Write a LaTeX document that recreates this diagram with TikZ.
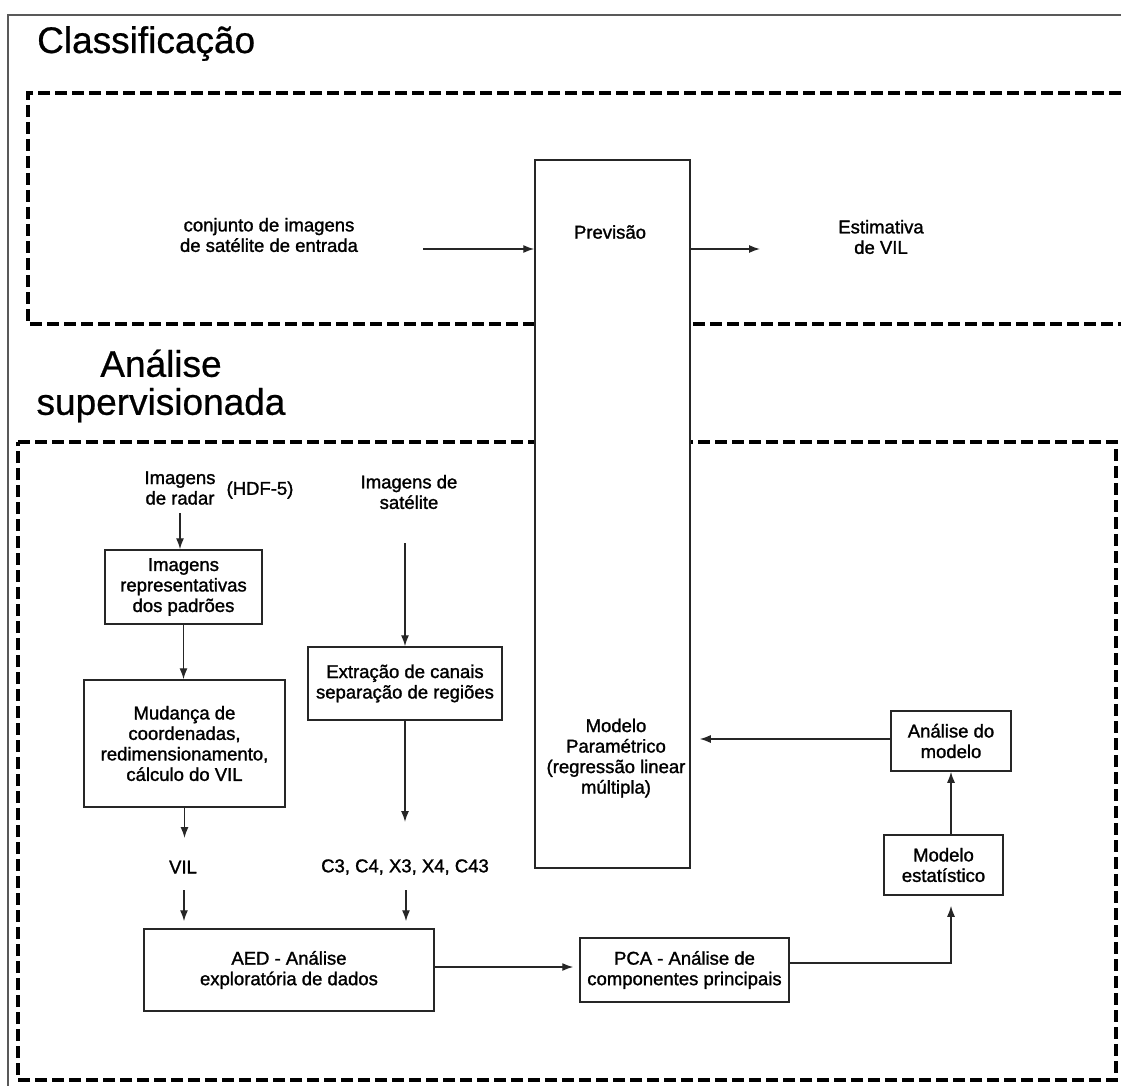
\documentclass[tikz,border=0pt]{standalone}
\usepackage{fontspec}
\setmainfont{Liberation Sans}
\newfontfamily\lblfont[FakeBold=1.4]{Liberation Sans}
\newfontfamily\ttlfont[FakeBold=0.6]{Liberation Sans}
\usetikzlibrary{arrows.meta,calc}
\begin{document}
\begin{tikzpicture}[x=1pt,y=-1pt,
  lbl/.style={align=center,font=\lblfont\fontsize{18.5}{20.5}\selectfont,inner sep=0pt},
  box/.style={draw=black!85,line width=1.5pt,fill=white,align=center,font=\lblfont\fontsize{18.5}{20.5}\selectfont,inner sep=0pt},
  arr/.style={draw=black!85,line width=1.4pt,-{Latex[length=11pt,width=8pt]}},
  region/.style={draw=black,line width=3.2pt,dash pattern=on 12pt off 5pt},
  frame/.style={draw=black!65,line width=1.3pt},
  title/.style={font=\ttlfont\fontsize{37}{38}\selectfont,inner sep=0pt,align=center}]
\useasboundingbox (0,0) rectangle (1121,1086);
\draw[frame] (8,1086) -- (8,15) -- (1121,15);
\draw[region] (1121,93) -- (28,93) -- (28,324) -- (1121,324);
\draw[region] (18,442) -- (1116,442) -- (1116,1080) -- (18,1080) -- cycle;

\node[title,anchor=base west] (cls) at (37,53) {Classificação};
\node[title] (sup) at (161,386) {Análise\\supervisionada};

% big box
\node[box,minimum width=155pt,minimum height=708pt] (big) at (612.5,514) {};
\node[lbl] (prev) at (610,232) {Previsão};
\node[lbl] (param) at (616,758) {Modelo\\Paramétrico\\(regressão linear\\múltipla)};

% classification
\node[lbl] (conj) at (269,235) {conjunto de imagens\\de satélite de entrada};
\coordinate (cin) at (423,249);
\draw[arr] (cin) -- (cin -| big.west);
\coordinate (cout) at (760,249);
\draw[arr] (cout -| big.east) -- (cout);
\node[lbl] (est) at (881,237) {Estimativa\\de VIL};

% radar branch
\node[lbl] (radar) at (180,488) {Imagens\\de radar};
\node[lbl] (hdf) at (260,490) {(HDF-5)};
\node[box,minimum width=157pt,minimum height=74pt] (rep) at (183.5,587) {Imagens\\representativas\\dos padrões};
\coordinate (radarout) at (180,513);
\draw[arr] (radarout) -- (radarout |- rep.north);
\node[box,minimum width=201pt,minimum height=127pt] (mud) at (184.5,743.5) {Mudança de\\coordenadas,\\redimensionamento,\\cálculo do VIL};
\draw[arr] (rep.south) -- (rep.south |- mud.north);
\coordinate (vilin) at (184.5,838);
\draw[arr] (mud.south) -- (vilin);
\node[lbl] (vil) at (183,867) {VIL};

% satellite branch
\node[lbl] (sat) at (409,492) {Imagens de\\satélite};
\node[box,minimum width=194pt,minimum height=73pt] (ext) at (405,683.5) {Extração de canais\\separação de regiões};
\coordinate (satout) at (405,543);
\draw[arr] (satout) -- (ext.north);
\coordinate (chanin) at (405,822);
\draw[arr] (ext.south) -- (chanin);
\node[lbl] (chan) at (405,867) {C3, C4, X3, X4, C43};

% analysis
\node[box,minimum width=290pt,minimum height=82pt] (aed) at (289,970) {AED - Análise\\exploratória de dados};
\coordinate (vilout) at (184,890);
\coordinate (chanout) at (406,890);
\draw[arr] (vilout) -- ([yshift=7pt]vilout |- aed.north);
\draw[arr] (chanout) -- ([yshift=7pt]chanout |- aed.north);
\node[box,minimum width=209pt,minimum height=64pt] (pca) at (684.5,970) {PCA - Análise de\\componentes principais};
\coordinate (ay) at (0,967);
\draw[arr] (aed.east |- ay) -- ([xshift=-6pt]pca.west |- ay);
\node[box,minimum width=119pt,minimum height=60pt] (stat) at (943.5,865) {Modelo\\estatístico};
\node[box,minimum width=120pt,minimum height=60pt] (ana) at (951,741) {Análise do\\modelo};
\coordinate (py) at (0,963);
\draw[arr] (pca.east |- py) -| ([yshift=-10pt]stat.south -| ana.south);
\draw[arr] (stat.north -| ana.south) -- (ana.south);
\coordinate (ay2) at (0,739);
\draw[arr] (ana.west |- ay2) -- ([xshift=9pt]big.east |- ay2);
\end{tikzpicture}
\end{document}
